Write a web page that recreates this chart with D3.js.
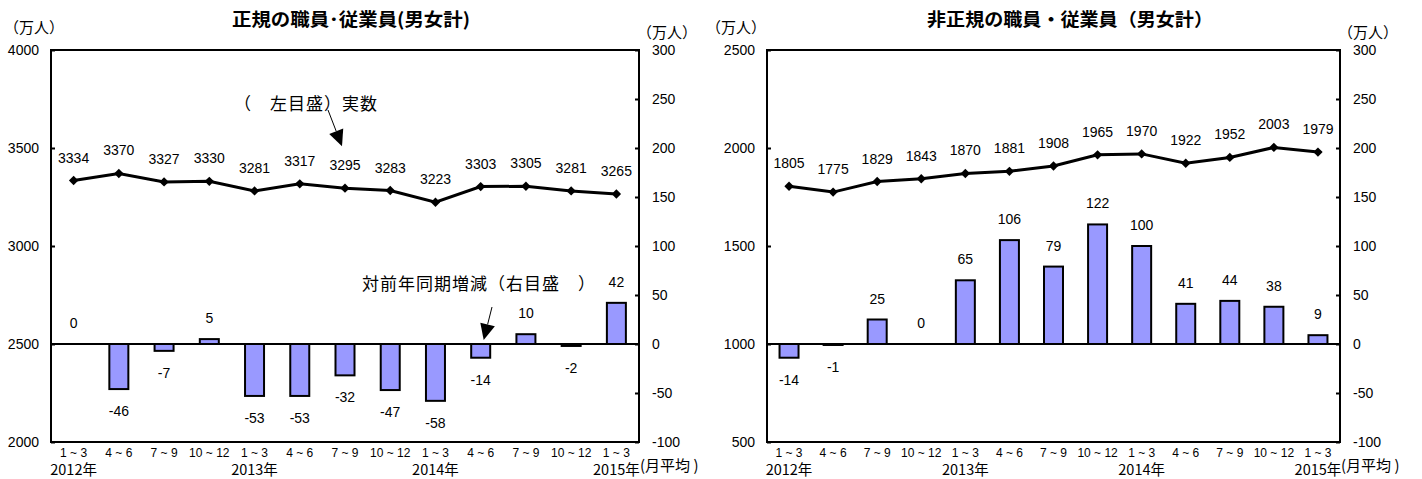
<!DOCTYPE html>
<html>
<head>
<meta charset="utf-8">
<script src="https://cdn.jsdelivr.net/npm/d3@7"></script>
<style>
  body { margin: 0; background: #fff; }
  svg { display: block; }
</style>
</head>
<body>
<svg id="chart" width="1422" height="479"></svg>
<script>
// Quarterly employee counts (10,000 persons, monthly average) and year-on-year change
const quarters = ["1 ~ 3", "4 ~ 6", "7 ~ 9", "10 ~ 12", "1 ~ 3", "4 ~ 6", "7 ~ 9", "10 ~ 12",
                  "1 ~ 3", "4 ~ 6", "7 ~ 9", "10 ~ 12", "1 ~ 3"];
const yearLabels = ["2012年", "2013年", "2014年", "2015年"];
const yearStartIndex = [0, 4, 8, 12];

const regularTotal  = [3334, 3370, 3327, 3330, 3281, 3317, 3295, 3283, 3223, 3303, 3305, 3281, 3265];
const regularChange = [0, -46, -7, 5, -53, -53, -32, -47, -58, -14, 10, -2, 42];

const nonRegularTotal  = [1805, 1775, 1829, 1843, 1870, 1881, 1908, 1965, 1970, 1922, 1952, 2003, 1979];
const nonRegularChange = [-14, -1, 25, 0, 65, 106, 79, 122, 100, 41, 44, 38, 9];

const regularTicks    = [2000, 2500, 3000, 3500, 4000];
const nonRegularTicks = [500, 1000, 1500, 2000, 2500];
const changeTicks     = [-100, -50, 0, 50, 100, 150, 200, 250, 300];

const NUM_FONT = "'Liberation Sans', Arial, sans-serif";
const JP_FONT = "'Noto Sans CJK JP', 'Noto Sans', sans-serif";

const svg = d3.select("#chart");

function drawPanel(cfg) {
  const top = 50, bottom = 442;
  const g = svg.append("g");

  const x = d3.scaleBand().domain(d3.range(quarters.length)).range([cfg.left, cfg.right]);
  const cx = i => x(i) + x.bandwidth() / 2;
  const yL = d3.scaleLinear().domain(cfg.leftDomain).range([bottom, top]);
  const yR = d3.scaleLinear().domain([-100, 300]).range([bottom, top]);
  const barW = 19;

  // Bars: year-on-year change (right scale)
  g.append("g").selectAll("rect").data(cfg.changes).join("rect")
    .attr("x", (d, i) => cx(i) - barW / 2)
    .attr("y", d => Math.min(yR(d), yR(0)))
    .attr("width", barW)
    .attr("height", d => Math.abs(yR(d) - yR(0)))
    .attr("fill", "#9999ff")
    .attr("stroke", "#000")
    .attr("stroke-width", 2);

  // Bar value labels
  g.append("g").selectAll("text").data(cfg.changes).join("text")
    .attr("x", (d, i) => cx(i))
    .attr("y", d => d >= 0 ? yR(d) - 16 : yR(d) + 27)
    .attr("text-anchor", "middle")
    .attr("font-family", NUM_FONT).attr("font-size", 14)
    .text(d => d);

  // Zero line of the change scale
  g.append("line")
    .attr("x1", cfg.left).attr("x2", cfg.right)
    .attr("y1", yR(0)).attr("y2", yR(0))
    .attr("stroke", "#000").attr("stroke-width", 2);

  // Total line with diamond markers (left scale)
  const line = d3.line().x((d, i) => cx(i)).y(d => yL(d));
  g.append("path").datum(cfg.totals)
    .attr("d", line)
    .attr("fill", "none").attr("stroke", "#000").attr("stroke-width", 3);
  g.append("g").selectAll("path").data(cfg.totals).join("path")
    .attr("d", d3.symbol(d3.symbolSquare, 44))
    .attr("transform", (d, i) => `translate(${cx(i)},${yL(d)}) rotate(45)`)
    .attr("fill", "#000");
  g.append("g").selectAll("text").data(cfg.totals).join("text")
    .attr("x", (d, i) => cx(i))
    .attr("y", d => yL(d) - 18)
    .attr("text-anchor", "middle")
    .attr("font-family", NUM_FONT).attr("font-size", 14)
    .text(d => d);

  // Axes with inward ticks
  const axL = g.append("g").attr("transform", `translate(${cfg.left},0)`)
    .call(d3.axisLeft(yL).tickValues(cfg.leftTicks).tickSizeInner(-4).tickSizeOuter(0).tickPadding(12)
      .tickFormat(d3.format("d")));
  const axR = g.append("g").attr("transform", `translate(${cfg.right},0)`)
    .call(d3.axisRight(yR).tickValues(changeTicks).tickSizeInner(-4).tickSizeOuter(0).tickPadding(13)
      .tickFormat(d => d < 0 ? "-" + Math.abs(d) : String(d)));
  [axL, axR].forEach(ax => {
    ax.select(".domain").remove();
    ax.selectAll("line").attr("stroke", "#000").attr("stroke-width", 2);
    ax.selectAll("text").attr("font-family", NUM_FONT).attr("font-size", 14).attr("fill", "#000");
  });

  // Plot frame
  g.append("rect")
    .attr("x", cfg.left).attr("y", top)
    .attr("width", cfg.right - cfg.left).attr("height", bottom - top)
    .attr("fill", "none").attr("stroke", "#000").attr("stroke-width", 2);

  // Quarter labels
  g.append("g").selectAll("text").data(quarters).join("text")
    .attr("x", (d, i) => cx(i))
    .attr("y", 457)
    .attr("text-anchor", "middle")
    .attr("font-family", NUM_FONT).attr("font-size", 12)
    .text(d => d);

  // Year labels
  g.append("g").selectAll("text").data(yearLabels).join("text")
    .attr("x", (d, i) => cx(yearStartIndex[i]))
    .attr("y", 475)
    .attr("text-anchor", "middle")
    .attr("font-family", JP_FONT).attr("font-size", 14.5)
    .text(d => d);
  g.append("text")
    .attr("x", cfg.right + 1).attr("y", 471)
    .attr("font-family", JP_FONT).attr("font-size", 15)
    .text("(月平均 )");

  // Unit labels
  g.append("text")
    .attr("x", cfg.unitLeftX).attr("y", 33)
    .attr("text-anchor", "middle")
    .attr("font-family", JP_FONT).attr("font-size", 15)
    .text("（万人）");
  g.append("text")
    .attr("x", cfg.right + 28).attr("y", 38)
    .attr("text-anchor", "middle")
    .attr("font-family", JP_FONT).attr("font-size", 15)
    .text("（万人）");

  // Title
  g.append("text")
    .attr("x", cfg.titleX).attr("y", 26)
    .attr("font-family", JP_FONT).attr("font-size", 18).attr("font-weight", "bold")
    .attr("textLength", cfg.titleW).attr("lengthAdjust", "spacingAndGlyphs")
    .text(cfg.title);

  return { g, cx, yL, yR };
}

const regular = drawPanel({
  left: 51, right: 639,
  leftDomain: [2000, 4000], leftTicks: regularTicks,
  totals: regularTotal, changes: regularChange,
  title: "正規の職員･従業員(男女計)", titleX: 232, titleW: 238,
  unitLeftX: 34
});

drawPanel({
  left: 767, right: 1340,
  leftDomain: [500, 2500], leftTicks: nonRegularTicks,
  totals: nonRegularTotal, changes: nonRegularChange,
  title: "非正規の職員・従業員（男女計）", titleX: 927, titleW: 286,
  unitLeftX: 736
});

// Series callouts with arrows on the regular-employee panel
function arrow(g, x1, y1, x2, y2) {
  const ang = Math.atan2(y2 - y1, x2 - x1);
  const len = 16, half = 7.5;
  const bx = x2 - len * Math.cos(ang), by = y2 - len * Math.sin(ang);
  g.append("line").attr("x1", x1).attr("y1", y1).attr("x2", bx).attr("y2", by)
    .attr("stroke", "#000").attr("stroke-width", 1);
  const px = -Math.sin(ang) * half, py = Math.cos(ang) * half;
  g.append("path")
    .attr("d", `M${x2},${y2}L${bx + px},${by + py}L${bx - px},${by - py}Z`)
    .attr("fill", "#000");
}

const rg = regular.g;
rg.append("text")
  .attr("x", 234).attr("y", 110)
  .attr("font-family", JP_FONT).attr("font-size", 17).attr("letter-spacing", 1)
  .text("（　左目盛）実数");
arrow(rg, 328, 110, regular.cx(6) - 3, regular.yL(regularTotal[6]) - 42);

rg.append("text")
  .attr("x", 362).attr("y", 290)
  .attr("font-family", JP_FONT).attr("font-size", 17).attr("letter-spacing", 1)
  .text("対前年同期増減（右目盛　）");
arrow(rg, 492, 307, regular.cx(9) + 3, regular.yR(0) - 4);
</script>
</body>
</html>
